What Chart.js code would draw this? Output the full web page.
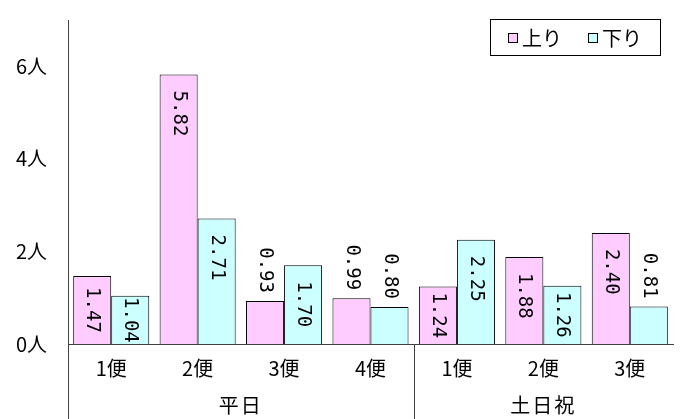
<!DOCTYPE html>
<html>
<head>
<meta charset="utf-8">
<script src="https://cdn.jsdelivr.net/npm/chart.js@4.4.1/dist/chart.umd.min.js"></script>
<style>
  html, body { margin: 0; padding: 0; background: #fff; }
</style>
</head>
<body>
<canvas id="ridership" width="684" height="419"></canvas>
<script>
const flights = ["1便", "2便", "3便", "4便", "1便", "2便", "3便"];
const dayGroups = ["平日", "土日祝"];
const groupSizes = [4, 3];
const upValues = [1.47, 5.82, 0.93, 0.99, 1.24, 1.88, 2.40];
const downValues = [1.04, 2.71, 1.70, 0.80, 2.25, 1.26, 0.81];
const yTicks = [0, 2, 4, 6];

const jpFont = "'Noto Sans CJK JP', sans-serif";
const axisColor = "#404040";

// vertical value labels, read top to bottom
const barLabels = {
  id: "barLabels",
  afterDatasetsDraw(chart) {
    const ctx = chart.ctx;
    const base = chart.scales.y.getPixelForValue(0);
    ctx.save();
    ctx.font = "19px 'DejaVu Sans Mono', monospace";
    ctx.fillStyle = "#000";
    ctx.textBaseline = "middle";
    ctx.textAlign = "left";
    chart.data.datasets.forEach((ds, di) => {
      chart.getDatasetMeta(di).data.forEach((bar, i) => {
        const v = ds.data[i];
        const txt = v.toFixed(2);
        const w = ctx.measureText(txt).width;
        const h = base - bar.y;
        let start;
        if (v < 1) start = bar.y - 8 - w;
        else start = bar.y + Math.min(16, (h - w) / 2);
        ctx.save();
        ctx.translate(bar.x, start);
        ctx.rotate(Math.PI / 2);
        ctx.fillText(txt, 0, 0);
        ctx.restore();
      });
    });
    ctx.restore();
  }
};

// second row of the category axis (平日 / 土日祝) with divider lines
const groupAxis = {
  id: "groupAxis",
  afterDraw(chart) {
    const { ctx, chartArea } = chart;
    const x = chart.scales.x;
    const half = x.width / flights.length / 2;
    ctx.save();
    ctx.strokeStyle = axisColor;
    ctx.lineWidth = 1;
    ctx.fillStyle = "#000";
    ctx.font = "20px " + jpFont;
    ctx.textAlign = "center";
    ctx.textBaseline = "middle";
    ctx.letterSpacing = "2px";
    let idx = 0;
    dayGroups.forEach((g, gi) => {
      const left = x.getPixelForValue(idx) - half;
      const right = x.getPixelForValue(idx + groupSizes[gi] - 1) + half;
      const lx = Math.round(left) + 0.5;
      ctx.beginPath();
      ctx.moveTo(lx, chartArea.bottom);
      ctx.lineTo(lx, chart.height);
      ctx.stroke();
      ctx.fillText(g, (left + right) / 2, 405);
      idx += groupSizes[gi];
    });
    ctx.restore();
  }
};

// boxed legend inside the plot, top right
const boxLegend = {
  id: "boxLegend",
  afterDraw(chart) {
    const ctx = chart.ctx;
    const bx = 490.5, by = 19.5, bw = 170, bh = 36;
    ctx.save();
    ctx.fillStyle = "#fff";
    ctx.fillRect(bx, by, bw, bh);
    ctx.strokeStyle = "#000";
    ctx.lineWidth = 1;
    ctx.strokeRect(bx, by, bw, bh);
    ctx.font = "20px " + jpFont;
    ctx.textBaseline = "middle";
    ctx.textAlign = "left";
    let cx = 508;
    chart.data.datasets.forEach((ds) => {
      ctx.fillStyle = ds.backgroundColor;
      ctx.fillRect(cx + 0.5, 33.5, 9, 9);
      ctx.strokeStyle = "#000";
      ctx.strokeRect(cx + 0.5, 33.5, 9, 9);
      ctx.fillStyle = "#000";
      ctx.fillText(ds.label, cx + 14, 38);
      cx += 80;
    });
    ctx.restore();
  }
};

new Chart(document.getElementById("ridership"), {
  type: "bar",
  data: {
    labels: flights,
    datasets: [
      {
        label: "上り",
        data: upValues,
        backgroundColor: "#FFCCFF",
        borderColor: "#000",
        borderWidth: 1,
      },
      {
        label: "下り",
        data: downValues,
        backgroundColor: "#CCFFFF",
        borderColor: "#000",
        borderWidth: 1,
      },
    ],
  },
  options: {
    responsive: false,
    animation: false,
    categoryPercentage: 0.88,
    barPercentage: 1.0,
    layout: { padding: { top: 20, right: 11, left: 10, bottom: 0 } },
    plugins: {
      legend: { display: false },
      tooltip: { enabled: false },
    },
    scales: {
      x: {
        grid: { display: false, drawTicks: false },
        border: { color: axisColor },
        ticks: {
          color: "#000",
          padding: 12,
          font: { size: 20, family: jpFont },
        },
        afterFit: (scale) => { scale.height = 75; },
      },
      y: {
        min: 0,
        max: 7,
        grid: { display: false, drawTicks: false },
        border: { color: axisColor },
        afterBuildTicks: (scale) => {
          scale.ticks = yTicks.map((v) => ({ value: v }));
        },
        ticks: {
          color: "#000",
          padding: 21,
          font: { size: 20, family: jpFont },
          callback: (v) => v + "人",
        },
        afterFit: (scale) => {
          scale.width = 58;
          scale.paddingTop = 0;
          scale.paddingBottom = 0;
        },
      },
    },
  },
  plugins: [barLabels, groupAxis, boxLegend],
});
</script>
</body>
</html>
